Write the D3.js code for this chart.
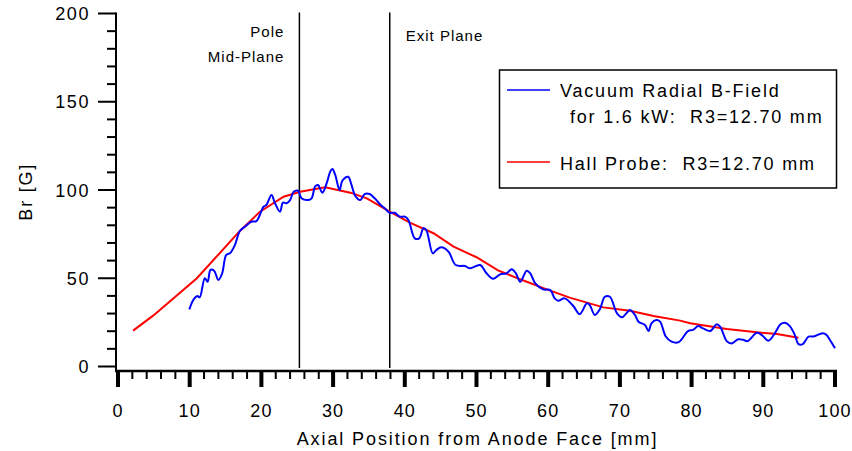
<!DOCTYPE html>
<html>
<head>
<meta charset="utf-8">
<script src="https://cdn.jsdelivr.net/npm/d3@7"></script>
<style>
  html, body { margin: 0; padding: 0; background: #fff; }
  svg { display: block; }
  text { font-family: "Liberation Sans", Arial, sans-serif; fill: #000; white-space: pre; }
</style>
</head>
<body>
<svg id="chart" width="852" height="451"></svg>
<script>
// ---- data ----
const hallX = [2.1, 4.9, 11.0, 17.0, 19.8, 23.1, 25.4, 28.9, 32.4, 34.7, 37.9, 40.7, 44.0, 46.8, 50.0, 53.0, 56.1, 59.8, 63.0, 67.7, 71.4, 74.7, 78.4, 79.8, 84.9, 89.1, 91.9, 94.9];
const hallY = [20.3, 28.8, 50.0, 76.8, 87.7, 96.2, 99.0, 101.5, 98.5, 95.3, 87.7, 81.5, 75.5, 67.9, 61.9, 54.5, 49.4, 43.7, 39.0, 33.5, 31.6, 28.6, 26.0, 24.5, 21.2, 19.4, 18.4, 16.3];

const vacX = [9.95, 10.5, 11.06, 11.4, 12.1, 12.5, 12.9, 13.4, 14.0, 14.5, 15.1, 15.6, 16.3, 17.0, 17.7, 18.6, 19.3, 20.3, 20.7, 21.4, 21.9, 22.6, 23.0, 23.5, 24.0, 24.5, 25.1, 25.6, 26.5, 27.0, 27.5, 27.9, 28.5, 29.1, 29.6, 29.9, 30.3, 30.9, 31.3, 32.1, 32.5, 33.1, 33.8, 34.4, 35.1, 35.8, 36.5, 37.2, 37.9, 38.6, 39.3, 40.0, 40.5, 41.4, 42.0, 42.6, 43.0, 43.9, 44.4, 45.1, 46.1, 47.1, 48.4, 49.1, 50.5, 51.4, 52.3, 53.3, 54.2, 54.9, 55.5, 56.1, 57.0, 57.5, 58.2, 59.3, 60.3, 60.9, 61.4, 62.3, 63.5, 64.4, 65.4, 65.8, 66.5, 67.2, 67.9, 68.6, 69.6, 70.3, 70.9, 71.4, 72.1, 72.6, 73.5, 74.0, 74.4, 75.1, 75.6, 76.4, 77.2, 78.2, 79.5, 80.2, 80.9, 81.6, 82.6, 83.5, 84.0, 84.9, 85.6, 86.5, 87.2, 87.8, 89.1, 89.8, 90.7, 91.6, 92.4, 93.0, 93.7, 94.4, 94.9, 95.5, 96.3, 97.0, 98.3, 98.8, 99.3, 100.0];
const vacY = [32.4, 37.7, 39.9, 39.2, 50.0, 48.0, 54.7, 54.3, 49.0, 52.4, 63.2, 64.1, 68.8, 76.8, 79.2, 82.0, 82.4, 90.5, 91.5, 97.2, 92.5, 87.7, 92.8, 92.5, 94.3, 99.0, 99.6, 95.3, 94.3, 95.3, 102.0, 102.8, 98.5, 103.8, 110.4, 111.9, 108.5, 100.0, 105.3, 107.5, 103.8, 96.6, 94.3, 97.7, 97.7, 95.3, 92.1, 89.6, 87.1, 87.1, 84.9, 84.9, 83.0, 72.6, 72.6, 78.3, 77.3, 64.1, 66.0, 67.5, 65.0, 57.5, 56.9, 55.6, 57.5, 52.8, 49.7, 52.2, 52.8, 55.1, 52.8, 48.0, 54.3, 52.8, 47.1, 43.7, 43.3, 38.6, 37.3, 38.6, 34.3, 29.7, 35.8, 34.8, 29.2, 32.4, 39.5, 39.5, 30.1, 27.9, 30.1, 32.0, 29.2, 25.4, 23.5, 20.1, 24.5, 26.3, 25.4, 17.0, 14.1, 13.8, 20.1, 20.7, 22.9, 21.6, 20.1, 23.9, 22.5, 14.4, 13.1, 15.4, 15.1, 14.4, 19.1, 17.8, 14.6, 18.8, 23.9, 24.8, 22.9, 17.8, 12.7, 12.7, 16.9, 17.0, 18.9, 18.0, 15.0, 10.3];

const xTickValues = [0, 10, 20, 30, 40, 50, 60, 70, 80, 90, 100];
const yTickValues = [0, 50, 100, 150, 200];
const planeX = [25.3, 37.9];
const xTitle = "Axial Position from Anode Face [mm]";
const yTitle = "Br [G]";
const legendLines = ["Vacuum Radial B-Field", "for 1.6 kW:  R3=12.70 mm", "Hall Probe:  R3=12.70 mm"];

// ---- layout ----
const svg = d3.select("#chart");
const x = d3.scaleLinear().domain([0, 100]).range([118, 835]);
const y = d3.scaleLinear().domain([0, 200]).range([366.5, 13.5]);
const axisY = 371; // x-axis baseline
const axisX = 116; // y-axis line

// planes
svg.selectAll("line.plane").data(planeX).enter().append("line")
  .attr("class", "plane")
  .attr("x1", d => x(d)).attr("x2", d => x(d))
  .attr("y1", y(200) - 1).attr("y2", 368)
  .attr("stroke", "#000").attr("stroke-width", 1.5);

// plane labels
svg.append("text").attr("x", x(planeX[0]) - 15).attr("y", 37)
  .attr("text-anchor", "end").style("font-size", "15px").style("letter-spacing", "1px").text("Pole");
svg.append("text").attr("x", x(planeX[0]) - 15).attr("y", 62)
  .attr("text-anchor", "end").style("font-size", "15px").style("letter-spacing", "1px").text("Mid-Plane");
svg.append("text").attr("x", x(planeX[1]) + 16).attr("y", 41)
  .style("font-size", "15px").style("letter-spacing", "1px").text("Exit Plane");

// y axis
svg.append("line").attr("x1", axisX).attr("x2", axisX).attr("y1", y(200) - 1).attr("y2", axisY + 1)
  .attr("stroke", "#000").attr("stroke-width", 2);
const yMinor = d3.range(0, 201, 10);
svg.selectAll("line.ytick").data(yMinor).enter().append("line")
  .attr("x1", d => d % 50 === 0 ? axisX - 18 : axisX - 9).attr("x2", axisX)
  .attr("y1", d => y(d)).attr("y2", d => y(d))
  .attr("stroke", "#000").attr("stroke-width", 2);
svg.selectAll("text.ylab").data(yTickValues).enter().append("text")
  .attr("x", 90).attr("y", d => y(d) + 6.5)
  .attr("text-anchor", "end").style("font-size", "18px").style("letter-spacing", "1.6px")
  .text(d => d);

// x axis
svg.append("line").attr("x1", axisX - 1).attr("x2", x(100) + 2).attr("y1", axisY).attr("y2", axisY)
  .attr("stroke", "#000").attr("stroke-width", 2.5);
const xMinor = d3.range(0, 101, 2);
svg.selectAll("line.xtick").data(xMinor).enter().append("line")
  .attr("x1", d => x(d)).attr("x2", d => x(d))
  .attr("y1", axisY).attr("y2", d => d % 10 === 0 ? axisY + 16 : axisY + 8)
  .attr("stroke", "#000").attr("stroke-width", d => d % 10 === 0 ? 4 : 2);
svg.selectAll("text.xlab").data(xTickValues).enter().append("text")
  .attr("x", d => x(d)).attr("y", 417)
  .attr("text-anchor", "middle").style("font-size", "18px").style("letter-spacing", "1.1px")
  .text(d => d);

// titles
svg.append("text").attr("x", x(50) + 1).attr("y", 445)
  .attr("text-anchor", "middle").style("font-size", "18px").style("letter-spacing", "1.9px")
  .text(xTitle);
svg.append("text").attr("transform", `translate(32,${y(99)}) rotate(-90)`)
  .attr("text-anchor", "middle").style("font-size", "18px").style("letter-spacing", "1.8px")
  .text(yTitle);

// data lines
const hall = hallX.map((d, i) => [d, hallY[i]]);
const vac = vacX.map((d, i) => [d, vacY[i]]);
svg.append("path").datum(hall)
  .attr("d", d3.line().x(d => x(d[0])).y(d => y(d[1])))
  .attr("fill", "none").attr("stroke", "#ff0000").attr("stroke-width", 2);
svg.append("path").datum(vac)
  .attr("d", d3.line().curve(d3.curveCatmullRom.alpha(0.5)).x(d => x(d[0])).y(d => y(d[1])))
  .attr("fill", "none").attr("stroke", "#0000ff").attr("stroke-width", 2);

// legend
const lg = svg.append("g");
lg.append("rect").attr("x", 499.5).attr("y", 70).attr("width", 337).attr("height", 118)
  .attr("fill", "#fff").attr("stroke", "#000").attr("stroke-width", 1.5);
lg.append("line").attr("x1", 507).attr("x2", 550).attr("y1", 90).attr("y2", 90)
  .attr("stroke", "#0000ff").attr("stroke-width", 1.5);
lg.append("line").attr("x1", 507).attr("x2", 550).attr("y1", 162).attr("y2", 162)
  .attr("stroke", "#ff0000").attr("stroke-width", 1.5);
lg.append("text").attr("x", 560).attr("y", 97).style("font-size", "18px").style("letter-spacing", "1.8px").text(legendLines[0]);
lg.append("text").attr("x", 570).attr("y", 123).style("font-size", "18px").style("letter-spacing", "1.8px").text(legendLines[1]);
lg.append("text").attr("x", 560).attr("y", 170).style("font-size", "18px").style("letter-spacing", "1.8px").text(legendLines[2]);
</script>
</body>
</html>
